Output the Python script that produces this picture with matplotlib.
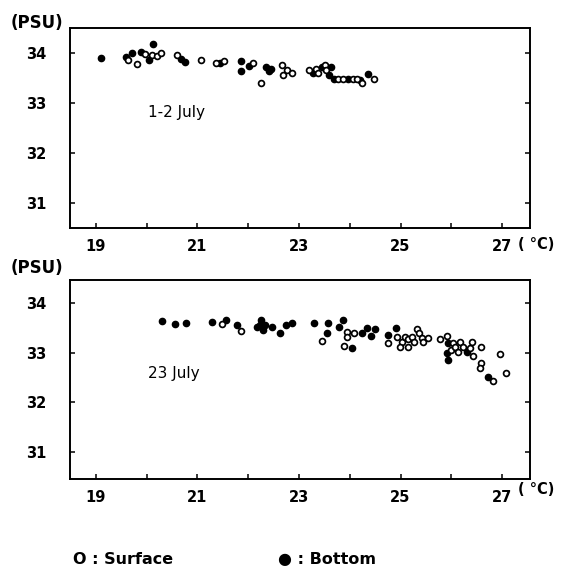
import matplotlib
matplotlib.use("Agg")
import matplotlib.pyplot as plt

# ---- data: 1-2 July ----
t1_surf = [19.64, 19.81, 19.97, 20.10, 20.21, 20.29, 20.59, 21.07, 21.36, 21.53, 22.09, 22.26,
           22.66, 22.68, 22.76, 22.86, 23.20, 23.33, 23.38, 23.51, 23.54, 23.77, 23.87, 24.06,
           24.14, 24.25, 24.48]
s1_surf = [33.87, 33.79, 33.98, 33.95, 33.94, 34.00, 33.97, 33.86, 33.81, 33.84, 33.81, 33.41,
           33.76, 33.56, 33.66, 33.61, 33.66, 33.69, 33.59, 33.76, 33.66, 33.49, 33.49, 33.49,
           33.49, 33.41, 33.49]
t1_bot = [19.11, 19.59, 19.72, 19.88, 20.05, 20.13, 20.67, 20.75, 21.44, 21.86, 21.86, 22.02,
          22.36, 22.41, 22.45, 23.28, 23.45, 23.60, 23.64, 23.68, 23.97, 24.20, 24.36]
s1_bot = [33.91, 33.93, 34.00, 34.02, 33.86, 34.18, 33.89, 33.83, 33.81, 33.85, 33.63, 33.74,
          33.73, 33.63, 33.68, 33.59, 33.73, 33.56, 33.73, 33.49, 33.49, 33.47, 33.58]

# ---- data: 23 July ----
t2_surf = [21.48, 21.86, 23.45, 23.94, 23.94, 23.89, 24.09, 24.76, 24.93, 25.02, 25.09, 24.99,
           25.15, 25.15, 25.22, 25.27, 25.32, 25.37, 25.42, 25.45, 25.55, 25.78, 25.91, 26.04,
           26.00, 26.07, 26.14, 26.18, 26.24, 26.37, 26.40, 26.42, 26.58, 26.58, 26.57, 26.83,
           26.95, 27.08]
s2_surf = [33.58, 33.44, 33.23, 33.41, 33.31, 33.14, 33.39, 33.20, 33.32, 33.22, 33.32, 33.12,
           33.12, 33.27, 33.32, 33.22, 33.47, 33.39, 33.29, 33.22, 33.29, 33.27, 33.34, 33.20,
           33.05, 33.12, 33.02, 33.22, 33.12, 33.09, 33.22, 32.93, 33.11, 32.79, 32.69, 32.42,
           32.97, 32.60]
t2_bot = [20.31, 20.56, 20.77, 21.29, 21.57, 21.77, 22.25, 22.23, 22.30, 22.17, 22.33, 22.46,
          22.63, 22.74, 22.86, 23.30, 23.58, 23.56, 23.78, 23.86, 24.05, 24.25, 24.33, 24.41,
          24.50, 24.75, 24.91, 25.94, 25.91, 25.94, 26.30, 26.73]
s2_bot = [33.64, 33.58, 33.60, 33.62, 33.66, 33.56, 33.66, 33.56, 33.46, 33.51, 33.56, 33.52,
          33.39, 33.56, 33.60, 33.60, 33.60, 33.39, 33.51, 33.66, 33.10, 33.39, 33.49, 33.34,
          33.47, 33.36, 33.49, 33.19, 33.00, 32.85, 33.02, 32.52]

x_ticks = [19, 20, 21, 22, 23, 24, 25, 26, 27]
x_labels = ["19", "", "21", "", "23", "", "25", "", "27"]
y_ticks = [31, 32, 33, 34]
y_labels = ["31", "32", "33", "34"]
panel_titles = ["1-2 July", "23 July"]

W, H = 561, 568
fig = plt.figure(figsize=(W / 100, H / 100), dpi=100)

def px_axes(left, top, right, bottom):
    return fig.add_axes([left / W, 1 - bottom / H, (right - left) / W, (bottom - top) / H])

ax1 = px_axes(70, 28, 530, 228)
ax2 = px_axes(70, 280, 530, 479)

panels = [
    (ax1, t1_surf, s1_surf, t1_bot, s1_bot, (30.5, 34.5), 23),
    (ax2, t2_surf, s2_surf, t2_bot, s2_bot, (30.46, 34.46), 268),
]

for i, (ax, ts, ss, tb, sb, ylim, psu_y) in enumerate(panels):
    ax.plot(tb, sb, 'o', ms=4.5, mfc='black', mec='black', mew=1.0, ls='none')
    ax.plot(ts, ss, 'o', ms=4.2, mfc='white', mec='black', mew=1.25, ls='none')
    ax.set_xlim(18.49, 27.55)
    ax.set_ylim(*ylim)
    ax.set_xticks(x_ticks)
    ax.set_xticklabels(x_labels)
    ax.set_yticks(y_ticks)
    ax.set_yticklabels(y_labels)
    ax.tick_params(direction='in', length=3.5, width=1.1, right=True, top=False,
                   labelsize=10.5, pad=8)
    ax.tick_params(axis='y', pad=17)
    for lab in ax.get_xticklabels() + ax.get_yticklabels():
        lab.set_fontweight('bold')
    for sp in ax.spines.values():
        sp.set_linewidth(1.4)
    ax.text(0.17, 0.58 if i == 0 else 0.53, panel_titles[i], transform=ax.transAxes,
            fontsize=11, ha='left', va='center')
    fig.text(11 / W, 1 - psu_y / H, "(PSU)", fontsize=12, fontweight='bold',
             ha='left', va='center')
    fig.text(518 / W, 1 - (psu_y + 222) / H, "( °C)", fontsize=10.5, fontweight='bold',
             ha='left', va='center')

fig.text(73 / W, 1 - 560 / H, "O : Surface", fontsize=11.5, fontweight='bold',
         ha='left', va='center')
fig.text(278 / W, 1 - 560 / H, "● : Bottom", fontsize=11.5, fontweight='bold',
         ha='left', va='center')

fig.savefig("out.png", dpi=100)
